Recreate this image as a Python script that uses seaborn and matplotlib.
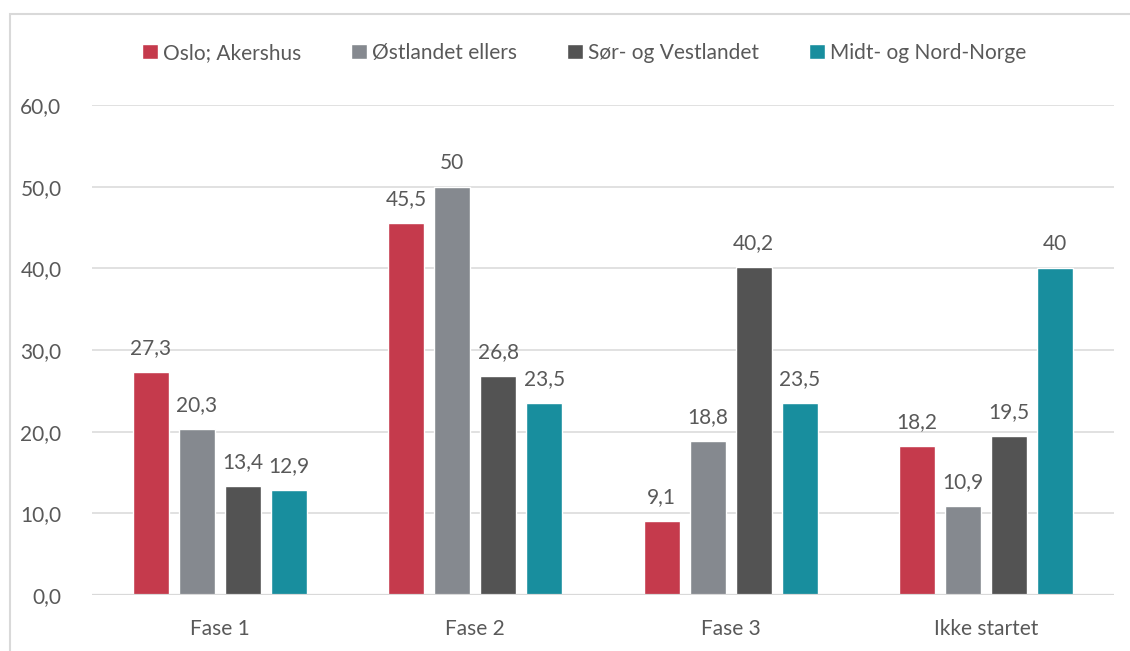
import matplotlib
matplotlib.use("Agg")
import matplotlib.pyplot as plt
from matplotlib.patches import Rectangle
import seaborn as sns
import pandas as pd

# Share per region and phase
categories = ["Fase 1", "Fase 2", "Fase 3", "Ikke startet"]
regions = ["Oslo; Akershus", "Østlandet ellers", "Sør- og Vestlandet", "Midt- og Nord-Norge"]
oslo_akershus = [27.3, 45.5, 9.1, 18.2]
ostlandet_ellers = [20.3, 50, 18.8, 10.9]
sor_vestlandet = [13.4, 26.8, 40.2, 19.5]
midt_nord = [12.9, 23.5, 23.5, 40]
y_ticks = [0, 10, 20, 30, 40, 50, 60]

colors = ["#C53A4C", "#85898F", "#535353", "#188E9E"]
text_color = "#595959"
grid_color = "#D9D9D9"

series = [oslo_akershus, ostlandet_ellers, sor_vestlandet, midt_nord]
rows = []
for region, vals in zip(regions, series):
    for cat, v in zip(categories, vals):
        rows.append({"Fase": cat, "Region": region, "Andel": v})
df = pd.DataFrame(rows)

sns.set_theme(style="white")
plt.rcParams["font.family"] = ["Lato", "DejaVu Sans"]

fig = plt.figure(figsize=(11.3, 6.51), dpi=100)
ax = fig.add_axes([92 / 1130, 1 - 595 / 651, (1114 - 92) / 1130, (595 - 105) / 651])

sns.barplot(data=df, x="Fase", y="Andel", hue="Region", order=categories,
            hue_order=regions, palette=colors, width=0.72, gap=0.22,
            saturation=1, errorbar=None, ax=ax, legend=True, zorder=3)

ax.set_ylim(0, 60)
ax.set_xlim(-0.5, 3.5)
ax.set_yticks(y_ticks)
ax.set_yticklabels([f"{t:.1f}".replace(".", ",") for t in y_ticks])
ax.set_xlabel("")
ax.set_ylabel("")
ax.grid(axis="y", color=grid_color, linewidth=1.1, zorder=0)
ax.grid(axis="x", visible=False)
for s in ax.spines.values():
    s.set_visible(False)
ax.axhline(0, color=grid_color, linewidth=1.6, zorder=4)
ax.tick_params(axis="both", length=0, labelsize=15, labelcolor=text_color)
ax.tick_params(axis="y", pad=22)
ax.tick_params(axis="x", pad=17)

# Value labels above each bar
for container in ax.containers:
    labels = [f"{b.get_height():g}".replace(".", ",") for b in container]
    ax.bar_label(container, labels=labels, padding=10, fontsize=15, color=text_color)

# Legend across the top
handles, labels = ax.get_legend_handles_labels()
ax.legend_.remove()
fig.legend(handles, labels, loc="center", bbox_to_anchor=(0.517, 1 - 53 / 651),
           ncol=4, frameon=False, fontsize=15, labelcolor=text_color,
           handlelength=0.75, handleheight=0.75, handletextpad=0.25,
           columnspacing=2.4)

# Chart area border
fig.patches.append(Rectangle((10 / 1130, -0.2), 1.5, 1.2 - 14 / 651,
                             transform=fig.transFigure, fill=False,
                             edgecolor=grid_color, linewidth=1.5))

fig.savefig("out.png", dpi=100, facecolor="white")
